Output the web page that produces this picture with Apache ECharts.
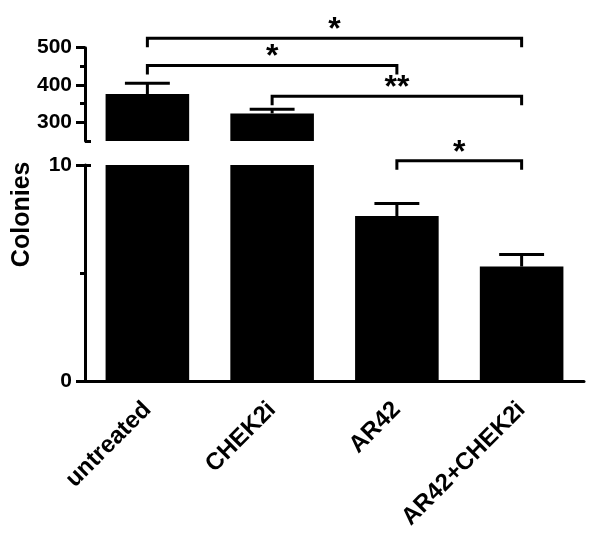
<!DOCTYPE html>
<html>
<head>
<meta charset="utf-8">
<script src="https://cdn.jsdelivr.net/npm/echarts@6/dist/echarts.min.js"></script>
<style>
html,body{margin:0;padding:0;background:#fff;}
#c{width:601px;height:547px;}
</style>
</head>
<body>
<div id="c"></div>
<script>
// ---- data ----
const categories = ['untreated', 'CHEK2i', 'AR42', 'AR42+CHEK2i'];
const means = [376, 324, 7.64, 5.3];
const errors = [29, 11, 0.58, 0.56];
// broken y axis: upper segment and lower segment
const upperRange = [250, 500];
const upperTicks = [300, 400, 500];
const upperMinorTicks = [350, 450];
const lowerRange = [0, 10];
const lowerTicks = [0, 10];
const lowerMinorTicks = [5];
// significance comparisons
const compFrom = [0, 0, 1, 2];
const compTo = [3, 2, 3, 3];
const compLabel = ['*', '*', '**', '*'];
const compSegment = [0, 0, 0, 1];
const compLevel = [525, 452, 370, 10.2];

// ---- styles ----
const FONT = 'Liberation Sans, Arial, sans-serif';
const BLACK = '#000';
const LW = 3;

const chart = echarts.init(document.getElementById('c'), null, {renderer: 'canvas'});

const upperIdx = means.map((v, i) => i).filter(i => means[i] > upperRange[0]);
const lowerIdx = means.map((v, i) => i);

function errRender(params, api) {
  const i = api.value(0);
  const p0 = api.coord([i, api.value(1)]);
  const p1 = api.coord([i, api.value(2)]);
  const band = api.size([1, 0])[0];
  const half = band * 0.18;
  return {
    type: 'group',
    children: [
      {type: 'line', shape: {x1: p0[0], y1: p0[1], x2: p1[0], y2: p1[1]}, style: {stroke: BLACK, lineWidth: LW}},
      {type: 'line', shape: {x1: p1[0] - half, y1: p1[1], x2: p1[0] + half, y2: p1[1]}, style: {stroke: BLACK, lineWidth: LW}}
    ]
  };
}

function bracketRender(params, api) {
  const a = api.value(0), b = api.value(1), lvl = api.value(2);
  const pa = api.coord([a, lvl]);
  const pb = api.coord([b, lvl]);
  const drop = 9;
  const label = compLabel[api.value(3)];
  return {
    type: 'group',
    children: [
      {type: 'polyline', shape: {points: [[pa[0], pa[1] + drop], [pa[0], pa[1]], [pb[0], pa[1]], [pb[0], pa[1] + drop]]},
        style: {stroke: BLACK, lineWidth: LW, fill: null}},
      {type: 'text', x: (pa[0] + pb[0]) / 2, y: pa[1] + 8,
        style: {text: label, fill: BLACK, font: 'bold 32px ' + FONT, textAlign: 'center', textVerticalAlign: 'bottom'}}
    ]
  };
}

const compIdx = compFrom.map((v, i) => i);
const upperComps = compIdx.filter(i => compSegment[i] === 0).map(i => [compFrom[i], compTo[i], compLevel[i], i]);
const lowerComps = compIdx.filter(i => compSegment[i] === 1).map(i => [compFrom[i], compTo[i], compLevel[i], i]);

const gridL = 85, gridR = 17;
const tickFont = {color: BLACK, fontFamily: FONT, fontWeight: 'bold', fontSize: 21, margin: 13};
const option = {
  animation: false,
  backgroundColor: '#fff',
  grid: [
    {left: gridL, right: gridR, top: 47.7, bottom: 547 - 141},
    {left: gridL, right: gridR, top: 165, bottom: 547 - 381},
    {left: gridL, right: gridR, top: 47.7, bottom: 547 - 381}
  ],
  xAxis: [
    {type: 'category', gridIndex: 0, data: categories, show: false},
    {type: 'category', gridIndex: 1, data: categories,
      axisLine: {lineStyle: {color: BLACK, width: LW}},
      axisTick: {alignWithLabel: true, length: 10, lineStyle: {color: BLACK, width: LW}},
      axisLabel: {rotate: 45, color: BLACK, fontFamily: FONT, fontWeight: 'bold', fontSize: 24, margin: 25, interval: 0}},
    {type: 'category', gridIndex: 2, data: categories, show: false}
  ],
  yAxis: [
    {type: 'value', gridIndex: 0, min: upperRange[0], max: upperRange[1], position: 'left',
      axisLine: {show: true, lineStyle: {color: BLACK, width: LW}},
      axisTick: {show: true, customValues: upperTicks, length: 9, lineStyle: {color: BLACK, width: LW}},
      axisLabel: Object.assign({customValues: upperTicks}, tickFont),
      splitLine: {show: false}},
    {type: 'value', gridIndex: 1, min: lowerRange[0], max: lowerRange[1], position: 'left',
      axisLine: {show: true, lineStyle: {color: BLACK, width: LW}},
      axisTick: {show: true, customValues: lowerTicks, length: 9, lineStyle: {color: BLACK, width: LW}},
      axisLabel: Object.assign({customValues: lowerTicks}, tickFont),
      splitLine: {show: false}},
    // minor ticks
    {type: 'value', gridIndex: 0, min: upperRange[0], max: upperRange[1], position: 'left',
      axisLine: {show: false}, axisLabel: {show: false}, splitLine: {show: false},
      axisTick: {show: true, customValues: upperMinorTicks, length: 5, lineStyle: {color: BLACK, width: LW}}},
    {type: 'value', gridIndex: 1, min: lowerRange[0], max: lowerRange[1], position: 'left',
      axisLine: {show: false}, axisLabel: {show: false}, splitLine: {show: false},
      axisTick: {show: true, customValues: lowerMinorTicks, length: 5, lineStyle: {color: BLACK, width: LW}}},
    // break marks (inside part)
    {type: 'value', gridIndex: 0, min: upperRange[0], max: upperRange[1], position: 'left',
      axisLine: {show: false}, axisLabel: {show: false}, splitLine: {show: false},
      axisTick: {show: true, inside: true, customValues: [upperRange[0]], length: 6, lineStyle: {color: BLACK, width: LW}}},
    {type: 'value', gridIndex: 1, min: lowerRange[0], max: lowerRange[1], position: 'left',
      axisLine: {show: false}, axisLabel: {show: false}, splitLine: {show: false},
      axisTick: {show: true, inside: true, customValues: [lowerRange[1]], length: 6, lineStyle: {color: BLACK, width: LW}}},
    // axis title spanning both segments
    {type: 'value', gridIndex: 2, position: 'left', name: 'Colonies', nameLocation: 'middle', nameGap: 50,
      nameTextStyle: {color: BLACK, fontFamily: FONT, fontWeight: 'bold', fontSize: 25},
      axisLine: {show: false}, axisTick: {show: false}, axisLabel: {show: false}, splitLine: {show: false}}
  ],
  series: [
    {type: 'bar', xAxisIndex: 0, yAxisIndex: 0, barWidth: '67%', clip: true,
      itemStyle: {color: BLACK},
      data: means.map((v, i) => upperIdx.includes(i) ? v : null)},
    {type: 'bar', xAxisIndex: 1, yAxisIndex: 1, barWidth: '67%', clip: true,
      itemStyle: {color: BLACK},
      data: means.map(v => v)},
    {type: 'custom', xAxisIndex: 0, yAxisIndex: 0, clip: false, renderItem: errRender,
      data: upperIdx.map(i => [i, means[i], means[i] + errors[i]])},
    {type: 'custom', xAxisIndex: 1, yAxisIndex: 1, clip: false, renderItem: errRender,
      data: lowerIdx.filter(i => means[i] <= lowerRange[1]).map(i => [i, means[i], means[i] + errors[i]])},
    {type: 'custom', xAxisIndex: 0, yAxisIndex: 0, clip: false, renderItem: bracketRender, data: upperComps},
    {type: 'custom', xAxisIndex: 1, yAxisIndex: 1, clip: false, renderItem: bracketRender, data: lowerComps}
  ]
};
chart.setOption(option);
</script>
</body>
</html>
